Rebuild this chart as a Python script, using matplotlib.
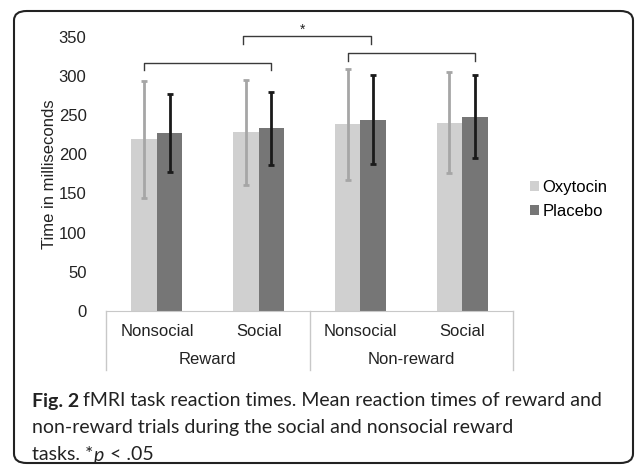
import matplotlib
matplotlib.use("Agg")
from matplotlib import pyplot as plt
from matplotlib.patches import FancyBboxPatch
import matplotlib.transforms as mtransforms
import numpy as np

# data
conditions = ["Nonsocial", "Social", "Nonsocial", "Social"]
groups = ["Reward", "Non-reward"]
oxytocin = [219, 228, 238, 240]
oxytocin_err = [74.5, 67, 70.5, 64.5]
placebo = [227, 233, 244, 248]
placebo_err = [49.5, 46.5, 56.5, 53]
yticks = [0, 50, 100, 150, 200, 250, 300, 350]

plt.rcParams['font.family'] = ['Liberation Sans', 'DejaVu Sans']

fig = plt.figure(figsize=(6.35, 4.67), dpi=100)
W, H = 635, 467
ax = fig.add_axes([106 / W, 1 - 311 / H, (513 - 106) / W, (311 - 36.7) / H])

x = np.arange(len(conditions))
bw = 0.25
ax.bar(x - bw / 2, oxytocin, bw, color='#d0d0d0', label='Oxytocin', zorder=2)
ax.bar(x + bw / 2, placebo, bw, color='#767676', label='Placebo', zorder=2)
ax.errorbar(x - bw / 2, oxytocin, yerr=oxytocin_err, fmt='none', ecolor='#a6a6a6',
            elinewidth=2, capsize=2.5, capthick=2, zorder=3)
ax.errorbar(x + bw / 2, placebo, yerr=placebo_err, fmt='none', ecolor='#1a1a1a',
            elinewidth=2, capsize=2.5, capthick=2, zorder=3)

ax.set_xlim(-0.5, 3.5)
ax.set_ylim(0, 350)
ax.set_yticks(yticks)
ax.tick_params(axis='y', length=0, pad=14, labelsize=12, labelcolor='#222222')
ax.set_xticks([])
for s in ['top', 'right', 'left']:
    ax.spines[s].set_visible(False)
ax.spines['bottom'].set_color('#c8c8c8')
ax.set_ylabel('Time in milliseconds', fontsize=12, color='#222222', labelpad=1)

# two-level category axis
trans = mtransforms.blended_transform_factory(ax.transData, ax.transAxes)
for xi, lab in zip(x, conditions):
    ax.text(xi, -0.0755, lab, transform=trans, ha='center', va='center',
            fontsize=12, color='#222222')
for gi, lab in enumerate(groups):
    ax.text(gi * 2 + 0.5, -0.1786, lab, transform=trans, ha='center', va='center',
            fontsize=12, color='#222222')
for xd in [-0.5, 1.5, 3.5]:
    ax.plot([xd, xd], [0, -0.215], transform=trans, color='#c8c8c8', lw=1,
            clip_on=False)

# significance brackets
bc = '#3a3a3a'
def bracket(x0, x1, y, drop):
    ax.plot([x0, x0, x1, x1], [y - drop, y, y, y - drop], color=bc, lw=1,
            clip_on=False, zorder=4)

bracket(-bw / 2, 1 + bw / 2, 317, 10)
bracket(2 - bw / 2, 3 + bw / 2, 329, 10)
bracket(0.85, 2.105, 351, 10)
ax.text(1.43, 359, '*', ha='center', va='center', fontsize=10, color='#222222',
        clip_on=False)

# legend
fig.legend(loc='center left', bbox_to_anchor=(530 / W, 1 - 199.5 / H),
           frameon=False, fontsize=12, handlelength=0.55, handleheight=0.55,
           handletextpad=0.2, labelspacing=0.5, borderpad=0, borderaxespad=0)

# rounded frame
frame = FancyBboxPatch((14 / W, 1 - 463 / H), (633 - 14) / W, (463 - 11) / H,
                       boxstyle='round,pad=0,rounding_size=0.02',
                       transform=fig.transFigure, fill=False, ec='#222222',
                       lw=1.5, clip_on=False)
fig.patches.append(frame)

# caption
cap_font = ['Lato', 'DejaVu Sans']
cs = 14
r = fig.canvas.get_renderer()
def put(xp, yp, s, **kw):
    t = fig.text(xp / W, 1 - yp / H, s, fontsize=cs, family=cap_font,
                 color='#222222', va='center', **kw)
    bb = t.get_window_extent(renderer=r)
    return bb.x1
xe = put(32, 401, 'Fig. 2', weight='bold')
put(xe + 4, 401, 'fMRI task reaction times. Mean reaction times of reward and')
put(32, 428, 'non-reward trials during the social and nonsocial reward')
xe = put(32, 455, 'tasks. *')
xe = put(xe, 455, 'p', style='italic')
put(xe + 1, 455, ' < .05')

fig.savefig('out.png', dpi=100)
